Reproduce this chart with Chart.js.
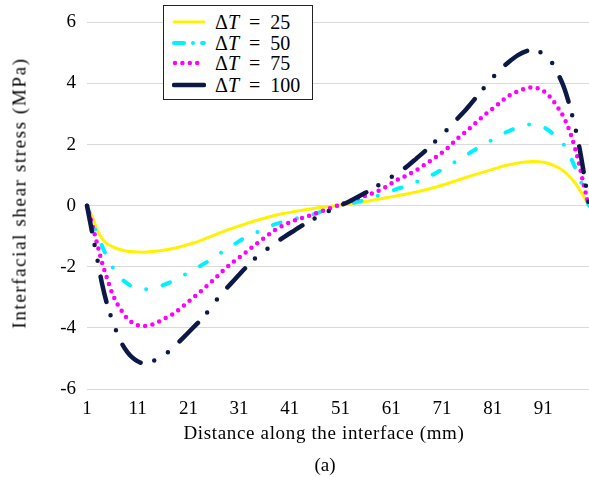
<!DOCTYPE html>
<html>
<head>
<meta charset="utf-8">
<script src="https://cdn.jsdelivr.net/npm/chart.js@4.4.1/dist/chart.umd.min.js"></script>
<style>
  html, body { margin: 0; padding: 0; background: #fff; }
  #wrap { position: relative; width: 589px; height: 477px; overflow: hidden; font-family: "Liberation Serif", serif; color: #000; }
  #chart { position: absolute; left: 0; top: 0; }
  .txt { position: absolute; white-space: nowrap; font-size: 19px; line-height: 1; }
  #xtitle { left: 324px; top: 423px; transform: translateX(-50%); letter-spacing: 0.65px; }
  #caption { left: 325px; top: 455px; transform: translateX(-50%); }
  #ytitle { left: 19px; top: 193px; transform: translate(-50%, -50%) rotate(-90deg); letter-spacing: 1.6px; }
  #legend { position: absolute; left: 163px; top: 5px; width: 148px; height: 93px; border: 1px solid #222; background: #fff; box-sizing: content-box; }
  .row { position: absolute; left: 0; height: 20px; width: 148px; }
  .row > svg { position: absolute; left: 8px; top: 0; }
  .row > .lab { position: absolute; left: 51px; top: 0px; font-size: 20px; line-height: 1; white-space: nowrap; }
  .eq { display: inline-block; margin: 0 10px; }
</style>
</head>
<body>
<div id="wrap">
  <canvas id="chart" width="589" height="477"></canvas>
  <div class="txt" id="ytitle">Interfacial shear stress (MPa)</div>
  <div class="txt" id="xtitle">Distance along the interface (mm)</div>
  <div class="txt" id="caption">(a)</div>
  <div id="legend"></div>
</div>
<script>
// ---- data ----
const distance = [1,2,3,4,5,6,7,8,9,10,12,14,16,18,20,22,24,26,28,30,32,34,36,38,40,42,44,46,48,50,52,54,56,58,60,62,64,66,68,70,72,74,76,78,80,82,84,86,88,89,90,91,92,93,94,95,96,97,98,99,100];

const dT25 = [0,-0.35,-0.78,-1.08,-1.25,-1.34,-1.41,-1.46,-1.49,-1.51,
  -1.52,-1.5,-1.46,-1.4,-1.32,-1.22,-1.1,-0.97,-0.84,-0.72,-0.61,-0.5,-0.41,-0.32,-0.25,-0.19,-0.13,-0.08,-0.04,0,
  0.04,0.09,0.14,0.2,0.26,0.32,0.38,0.45,0.53,0.62,0.72,0.83,0.94,1.04,1.14,1.24,1.33,1.4,1.44,
  1.45,1.44,1.42,1.38,1.32,1.24,1.13,0.98,0.8,0.56,0.29,0];

const dT50 = [0,-0.5,-0.95,-1.33,-1.7,-2.0,-2.22,-2.42,-2.55,-2.66,
  -2.74,-2.71,-2.6,-2.46,-2.28,-2.09,-1.91,-1.7,-1.48,-1.27,-1.06,-0.9,-0.77,-0.61,-0.52,-0.43,-0.34,-0.26,-0.14,-0.03,
  0.05,0.11,0.2,0.31,0.42,0.54,0.65,0.78,0.92,1.09,1.28,1.48,1.68,1.88,2.07,2.26,2.43,2.56,2.65,
  2.66,2.64,2.58,2.47,2.34,2.19,2.0,1.72,1.35,0.96,0.5,0];

const dT75 = [0,-0.6,-1.25,-1.88,-2.4,-2.88,-3.22,-3.48,-3.7,-3.83,
  -3.94,-3.88,-3.72,-3.54,-3.28,-3.0,-2.72,-2.42,-2.1,-1.82,-1.57,-1.3,-1.05,-0.8,-0.62,-0.48,-0.37,-0.26,-0.14,-0.02,
  0.1,0.22,0.33,0.45,0.62,0.83,0.99,1.17,1.39,1.62,1.87,2.19,2.46,2.76,3.05,3.31,3.58,3.75,3.86,
  3.87,3.84,3.76,3.62,3.42,3.18,2.9,2.52,2.02,1.4,0.65,0];

const dT100 = [0,-0.86,-1.72,-2.58,-3.25,-3.75,-4.2,-4.55,-4.8,-4.98,
  -5.15,-5.08,-4.92,-4.64,-4.32,-3.98,-3.64,-3.2,-2.8,-2.44,-2.08,-1.75,-1.48,-1.24,-1.01,-0.8,-0.59,-0.41,-0.24,-0.05,
  0.08,0.25,0.43,0.62,0.84,1.04,1.27,1.55,1.84,2.16,2.49,2.84,3.2,3.6,4.0,4.37,4.68,4.93,5.08,
  5.1,5.06,4.95,4.82,4.6,4.28,3.9,3.38,2.75,2.0,1.05,0];

const seriesDT = ['25', '50', '75', '100'];
const xTickValues = [1,11,21,31,41,51,61,71,81,91];
const yTickValues = [-6,-4,-2,0,2,4,6];

// ---- styles ----
const styles = [
  { color: '#fff200', width: 3,   dash: [],                      legendDash: 'none' },
  { color: '#00f2ff', width: 4,   dash: [8, 17, 0, 17],          legendDash: '10 9 0 9' },
  { color: '#ff00ff', width: 4.5, dash: [0, 7.4],                legendDash: '0 7.4' },
  { color: '#0c1846', width: 4.5, dash: [26, 14, 0, 16, 0, 16],  legendDash: 'none' }
];
const allSeries = [dT25, dT50, dT75, dT100];

const datasets = allSeries.map((vals, i) => ({
  label: 'ΔT = ' + seriesDT[i],
  data: distance.map((x, j) => ({ x: x, y: vals[j] })),
  borderColor: styles[i].color,
  backgroundColor: styles[i].color,
  borderWidth: styles[i].width,
  borderDash: styles[i].dash,
  borderCapStyle: 'round',
  borderJoinStyle: 'round',
  pointRadius: 0,
  fill: false,
  cubicInterpolationMode: 'monotone',
  order: 4 - i
}));

const FONT = { family: '"Liberation Serif", serif', size: 19 };

new Chart(document.getElementById('chart'), {
  type: 'line',
  data: { datasets },
  options: {
    responsive: false,
    animation: false,
    devicePixelRatio: 1,
    clip: false,
    layout: { padding: { top: 17, right: 0, left: 0, bottom: 0 } },
    plugins: { legend: { display: false }, tooltip: { enabled: false }, title: { display: false } },
    scales: {
      x: {
        type: 'linear',
        min: 1, max: 100,
        grid: { display: false, drawTicks: false },
        border: { display: false },
        afterBuildTicks: s => { s.ticks = xTickValues.map(v => ({ value: v })); },
        afterFit: s => { s.height = 88; },
        ticks: { font: FONT, color: '#000', padding: 9, maxRotation: 0, autoSkip: false }
      },
      y: {
        min: -6, max: 6,
        grid: { color: '#d9d9d9', lineWidth: 1, drawTicks: false },
        border: { display: false },
        afterBuildTicks: s => { s.ticks = yTickValues.map(v => ({ value: v })); },
        afterFit: s => { s.width = 87; },
        ticks: { font: FONT, color: '#000', padding: 11 }
      }
    }
  }
});

// ---- legend (HTML, mixed italic text) ----
const legend = document.getElementById('legend');
const rowTops = [6, 27, 47, 69];
seriesDT.forEach((v, i) => {
  const st = styles[i];
  const row = document.createElement('div');
  row.className = 'row';
  row.style.top = rowTops[i] + 'px';
  const dashAttr = st.legendDash !== 'none' ? ` stroke-dasharray="${st.legendDash}"` : '';
  row.innerHTML =
    `<svg width="34" height="20"><line x1="${i===2?3:2}" y1="10" x2="32" y2="10" stroke="${st.color}" stroke-width="${st.width}" stroke-linecap="round"${dashAttr}/></svg>` +
    `<span class="lab">Δ<i>T</i><span class="eq">=</span>${v}</span>`;
  legend.appendChild(row);
});
</script>
</body>
</html>
